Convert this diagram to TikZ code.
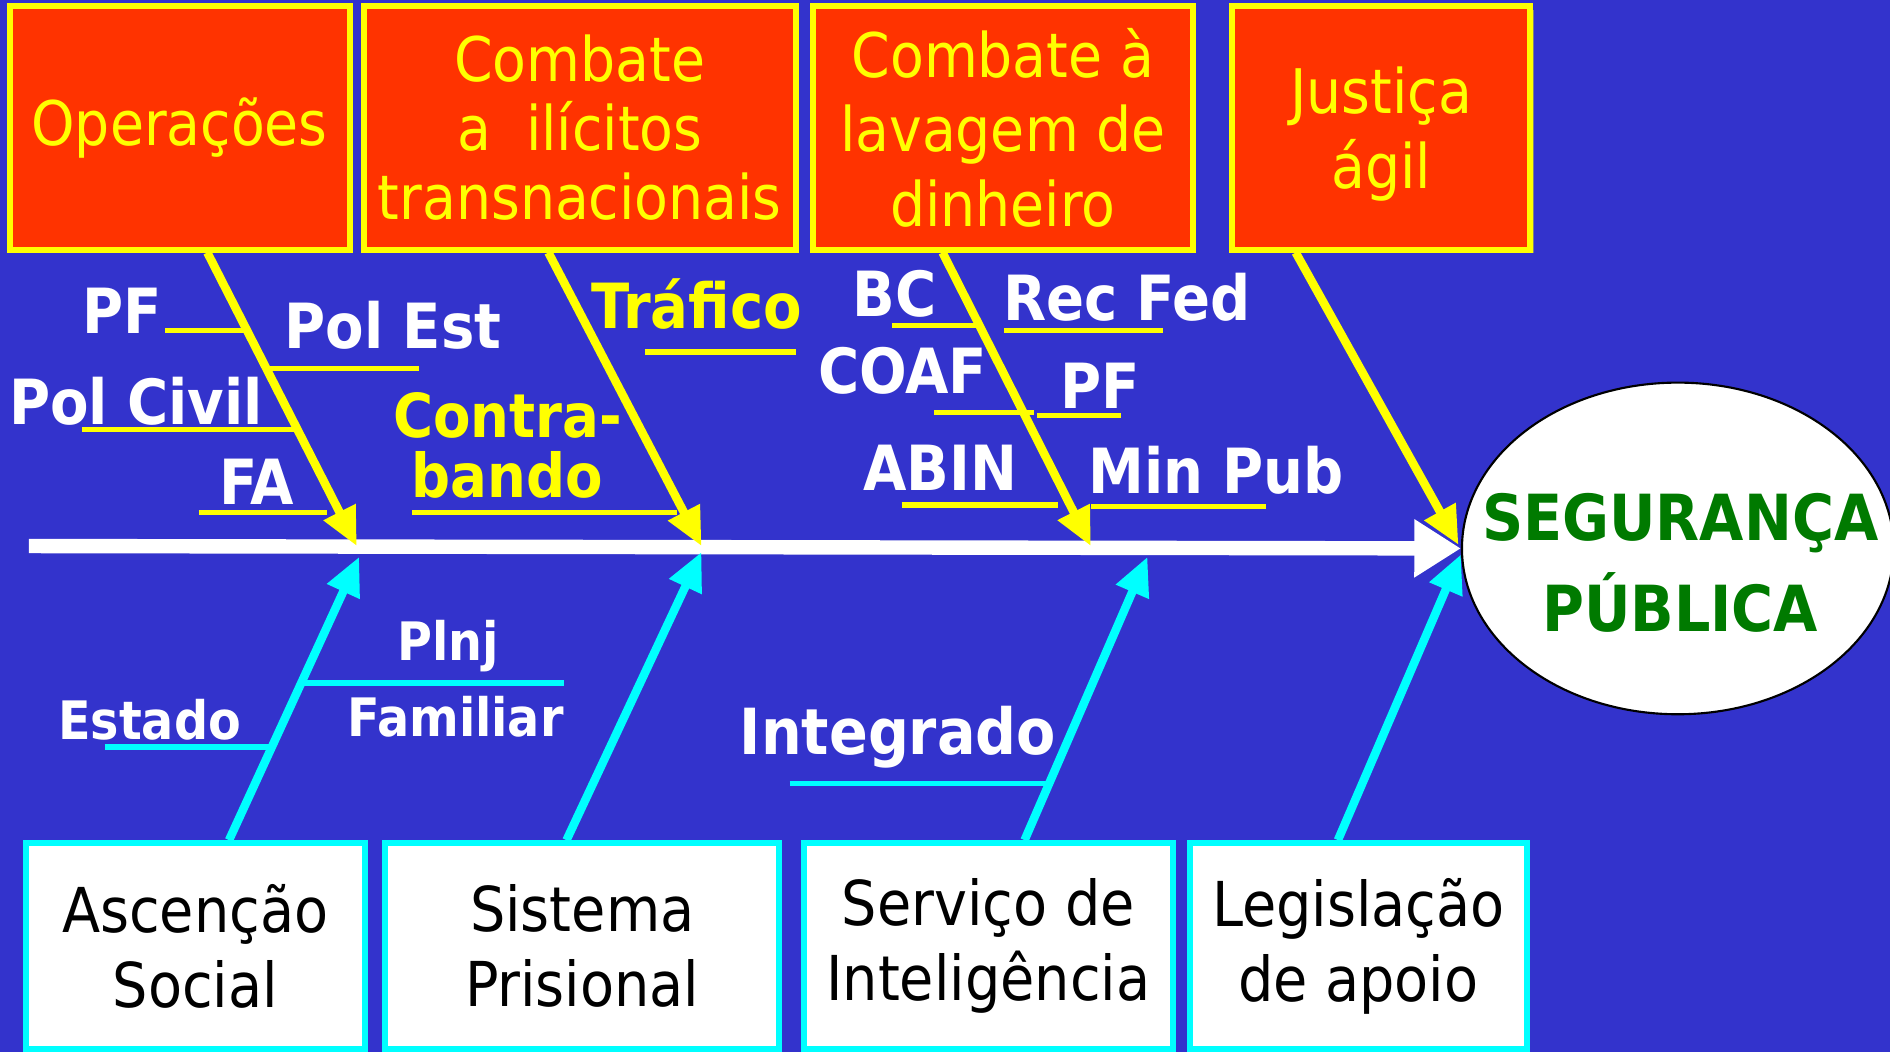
\documentclass[tikz,border=0pt]{standalone}
\usepackage{fontspec}
\setmainfont{DejaVu Sans Condensed}
\usetikzlibrary{arrows.meta,shapes.geometric,shadows}

\definecolor{fundo}{RGB}{51,51,204}
\definecolor{caixa}{RGB}{255,51,0}
\definecolor{verde}{RGB}{0,122,0}
\definecolor{amarelo}{RGB}{255,255,0}
\definecolor{ciano}{RGB}{0,255,255}

\tikzset{
  causa/.style={draw=amarelo, line width=1.4pt, fill=caixa, text=amarelo, align=center,
    inner sep=0pt, minimum height=2.02cm,
    drop shadow={shadow xshift=0.03cm, shadow yshift=-0.03cm, fill=gray, opacity=1}},
  apoio/.style={draw=ciano, line width=1.4pt, fill=white, text=black, align=center,
    inner sep=0pt, minimum height=1.71cm, font=\fontsize{14.6pt}{17.8pt}\selectfont},
  setay/.style={amarelo, line width=2pt, -{Triangle[length=9pt,width=8pt]}},
  setac/.style={ciano, line width=2pt, -{Triangle[length=9pt,width=8pt]}},
  espinha/.style={white, line width=3.4pt, -{Triangle[length=11pt,width=13pt]}},
  ribY/.style={amarelo, line width=1.2pt},
  ribC/.style={ciano, line width=1.4pt},
  rot/.style={text=white, inner sep=0pt, font=\bfseries\fontsize{14.7pt}{15pt}\selectfont},
  rotp/.style={text=white, inner sep=0pt, font=\bfseries\fontsize{12.5pt}{13pt}\selectfont},
}

\begin{document}
\begin{tikzpicture}[x=0.01cm, y=-0.01cm]
  \useasboundingbox (0,0) rectangle (1568,873);
  \fill[fundo] (0,0) rectangle (1568,873);
  \clip (0,0) rectangle (1568,873);

  % caixas de cima
  \node[causa, minimum width=2.82cm, font=\fontsize{14.5pt}{16.5pt}\selectfont] (ops) at (149,106) {Operações};
  \node[causa, minimum width=3.58cm, font=\fontsize{14.5pt}{16.3pt}\selectfont] (ilic) at (481,106) {Combate\\a \ ilícitos\\transnacionais};
  \node[causa, minimum width=3.15cm, font=\fontsize{14.5pt}{17.6pt}\selectfont] (lav) at (832,106) {Combate à\\lavagem de\\dinheiro};
  \node[causa, minimum width=2.47cm, minimum height=2.02cm] (just) at (1146,106) {};
  \node[text=amarelo, align=center, font=\fontsize{14.5pt}{17.6pt}\selectfont] (justtxt) at (1146,111) {Justiça\\ágil};

  % caixas de baixo
  \node[apoio, minimum width=2.81cm] (asc) at (162,785) {Ascenção\\Social};
  \node[apoio, minimum width=3.27cm] (pris) at (483,785) {Sistema\\Prisional};
  \node[apoio, minimum width=3.06cm] (intel) at (820,785) {Serviço de\\Inteligência};
  \node[apoio, minimum width=2.80cm] (legis) at (1127,785) {Legislação\\de apoio};

  % efeito
  \node[ellipse, draw=black, line width=0.5pt, fill=white, minimum width=3.58cm,
    minimum height=2.75cm, inner sep=0pt] (seg) at (1392,455) {};
  \node[text=verde, align=center, font=\bfseries\fontsize{15pt}{21.3pt}\selectfont] (segtxt) at (1394,467) {SEGURANÇA\\PÚBLICA};

  % espinha
  \coordinate (cauda) at (24,453);
  \draw[espinha] (cauda) -- (seg.west);

  \coordinate (j1) at (296,453);
  \coordinate (j2) at (582,453);
  \coordinate (j3) at (905,453);
  \coordinate (j4) at (1210,452);
  \coordinate (k1) at (298,462);
  \coordinate (k2) at (582,458);
  \coordinate (k3) at (952,462);
  \coordinate (k4) at (1212,460);

  \draw[setay] ([xshift=0.23cm]ops.south) -- (j1);
  \draw[setay] ([xshift=-0.26cm]ilic.south) -- (j2);
  \draw[setay] ([xshift=-0.5cm]lav.south) -- (j3);
  \draw[setay] ([xshift=-0.71cm]just.south) -- (j4);

  \draw[setac] ([xshift=0.28cm]asc.north) -- (k1);
  \draw[setac] ([xshift=-0.13cm]pris.north) -- (k2);
  \draw[setac] ([xshift=0.3cm]intel.north) -- (k3);
  \draw[setac] ([xshift=-0.17cm]legis.north) -- (k4);

  % espinhas menores
  \draw[ribY] (137,274) -- (204,274);
  \draw[ribY] (221,306) -- (348,306);
  \draw[ribY] (68,356) -- (246,356);
  \draw[ribY] (165,425) -- (271,425);
  \draw[ribY] (535,292) -- (660,292);
  \draw[ribY] (342,425) -- (562,425);
  \draw[ribY] (740,270) -- (812,270);
  \draw[ribY] (833,274) -- (965,274);
  \draw[ribY] (775,342) -- (858,342);
  \draw[ribY] (860,345) -- (930,345);
  \draw[ribY] (748,419) -- (878,419);
  \draw[ribY] (905,420) -- (1050,420);
  \draw[ribC] (252,567) -- (468,567);
  \draw[ribC] (87,620) -- (224,620);
  \draw[ribC] (655,650) -- (868,650);

  \node[rot] (pf) at (101,258) {PF};
  \node[rot] (polest) at (326,270) {Pol Est};
  \node[rot] (polciv) at (113,333) {Pol Civil};
  \node[rot] (fa) at (213,400) {FA};
  \node[rot, text=amarelo] (traf) at (578,252) {Tráfico};
  \node[rot, text=amarelo, font=\bfseries\fontsize{14.3pt}{15pt}\selectfont] (contra) at (421,345) {Contra-};
  \node[rot, text=amarelo, font=\bfseries\fontsize{14.3pt}{15pt}\selectfont] (bando) at (421,394) {bando};
  \node[rot] (bc) at (742,244) {BC};
  \node[rot] (recfed) at (935,247) {Rec Fed};
  \node[rot] (coaf) at (749,308) {COAF};
  \node[rot] (pf2) at (913,320) {PF};
  \node[rot] (abin) at (780,388) {ABIN};
  \node[rot] (minpub) at (1009,390) {Min Pub};
  \node[rotp] (plnj) at (372,536) {Plnj};
  \node[rotp] (famil) at (378,595) {Familiar};
  \node[rotp] (estado) at (124,597) {Estado};
  \node[rot, font=\bfseries\fontsize{15pt}{15pt}\selectfont] (integ) at (745,612) {Integrado};
\end{tikzpicture}
\end{document}
